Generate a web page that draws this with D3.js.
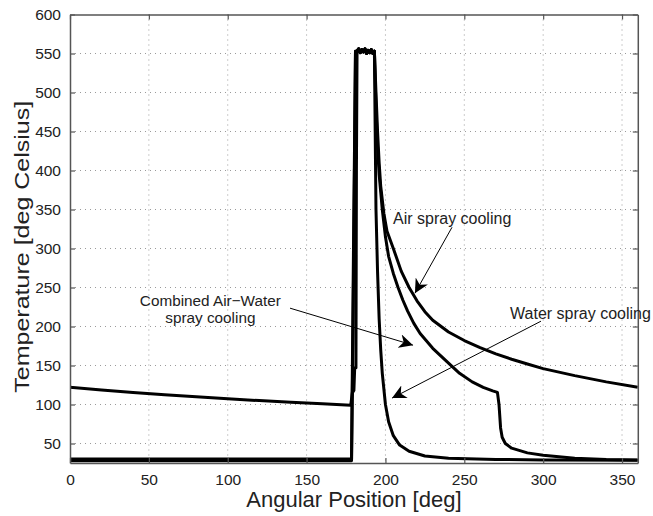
<!DOCTYPE html>
<html><head><meta charset="utf-8">
<script src="https://cdn.jsdelivr.net/npm/d3@7"></script>
<style>
body{margin:0;background:#fff;}
svg{display:block;}
text{font-family:"Liberation Sans",Arial,Helvetica,sans-serif;fill:#222;}
</style></head>
<body>
<svg id="chart" width="653" height="516"></svg>
<script>
// ---- data (angle in deg, temperature in deg C) ----
const xTicks = [0, 50, 100, 150, 200, 250, 300, 350];
const yTicks = [50, 100, 150, 200, 250, 300, 350, 400, 450, 500, 550, 600];

const peakAngles = [182, 183, 184, 185, 186, 187, 188, 189, 190, 191, 192, 193];
const peakTemps  = [553, 556, 551, 555, 552, 556, 550, 554, 551, 555, 550, 553];

const airAngles = [0, 20, 40, 60, 80, 100, 120, 140, 160, 178, 179, 180, 180.5, 181.3, 181.6, 182];
const airTemps  = [122, 118.5, 115.5, 112.5, 110, 107.5, 105, 103, 101, 99, 115, 118, 147, 147, 400, 553];
const airDecayAngles = [194, 195, 196, 197, 199, 201, 205, 210, 215, 220, 225, 230, 240, 250, 260, 270, 280, 290, 300, 320, 340, 360];
const airDecayTemps  = [500, 450, 410, 380, 345, 322, 300, 271, 250, 233, 219, 208, 193, 182, 173, 165, 158, 152, 146, 137, 129, 122];

const combAngles = [0, 60, 120, 178.5, 179.5, 181];
const combTemps  = [30, 30, 30, 30, 250, 553];
const combDecayAngles = [194, 195, 196, 198, 200, 202, 205, 208, 211, 214, 218, 222, 230, 240, 247, 255, 262, 268, 271, 272, 273, 274, 276, 280, 290, 300, 320, 340, 360];
const combDecayTemps  = [480, 430, 395, 350, 315, 290, 268, 250, 234, 220, 204, 191, 172, 153, 140, 129, 122, 117.5, 115.5, 100, 70, 58, 50, 44, 38, 35, 31, 29.5, 29];

const waterAngles = [0, 60, 120, 178.5, 179.5, 181];
const waterTemps  = [28, 28, 28, 28, 200, 553];
const waterDecayAngles = [193.5, 194, 195, 196, 197, 198, 200, 202, 205, 209, 215, 225, 240, 270, 300, 360];
const waterDecayTemps  = [450, 350, 270, 210, 170, 140, 100, 78, 60, 48, 40, 34, 31, 29.5, 29, 28.5];

// annotations: [text lines], text anchor point, arrow from -> to (data units)
const annotations = [
  {lines: ["Air spray cooling"], tx: 204.8, ty: 331, anchor: "start", size: 16, from: [242.2, 327.2], to: [218.7, 242.7]},
  {lines: ["Water spray cooling"], tx: 279, ty: 209.4, anchor: "start", size: 16, from: [298.6, 206.8], to: [204.2, 108.2]},
  {lines: ["Combined Air\u2212Water", "spray cooling"], tx: 89, ty: 226, anchor: "middle", size: 15.3, from: [139.5, 223.5], to: [217.5, 176.1]}
];

// ---- layout ----
const svg = d3.select("#chart");
const pL = 70, pR = 637.8, pT = 14.5, pB = 463;
const x = d3.scaleLinear().domain([0, 360]).range([pL, pR]);
const y = d3.scaleLinear().domain([25, 600]).range([pB, pT]);

const defs = svg.append("defs");
defs.append("clipPath").attr("id", "plotclip")
  .append("rect").attr("x", pL).attr("y", pT).attr("width", pR - pL).attr("height", pB - pT);

// grid
const grid = svg.append("g");
grid.selectAll("line.gx").data(xTicks.filter(d => d > 0)).enter().append("line")
  .attr("x1", d => x(d)).attr("x2", d => x(d)).attr("y1", pT).attr("y2", pB)
  .attr("stroke", "#9a9a9a").attr("stroke-width", 1).attr("stroke-dasharray", "1,4");
grid.selectAll("line.gy").data(yTicks.filter(d => d < 600)).enter().append("line")
  .attr("y1", d => y(d)).attr("y2", d => y(d)).attr("x1", pL).attr("x2", pR)
  .attr("stroke", "#9a9a9a").attr("stroke-width", 1).attr("stroke-dasharray", "1,4");

// curves
const line = d3.line().x(d => x(d[0])).y(d => y(d[1]));
const zipS = (a, b) => a.map((v, i) => [v, b[i]]);
const peak = zipS(peakAngles, peakTemps);
const series = [
  zipS(airAngles, airTemps).concat(peak, zipS(airDecayAngles, airDecayTemps)),
  zipS(combAngles, combTemps).concat(peak, zipS(combDecayAngles, combDecayTemps)),
  zipS(waterAngles, waterTemps).concat(peak, zipS(waterDecayAngles, waterDecayTemps))
];
svg.append("g").attr("clip-path", "url(#plotclip)")
  .selectAll("path").data(series).enter().append("path")
  .attr("d", line).attr("fill", "none").attr("stroke", "#000")
  .attr("stroke-width", 3).attr("stroke-linejoin", "round");

// axes (MATLAB-like box with inward ticks)
const axColor = "#555";
const xb = svg.append("g").attr("transform", `translate(0,${pB})`)
  .call(d3.axisBottom(x).tickValues(xTicks).tickSizeInner(-5).tickSizeOuter(0).tickPadding(11));
const xt = svg.append("g").attr("transform", `translate(0,${pT})`)
  .call(d3.axisTop(x).tickValues(xTicks).tickSizeInner(-5).tickSizeOuter(0).tickFormat(""));
const yl = svg.append("g").attr("transform", `translate(${pL},0)`)
  .call(d3.axisLeft(y).tickValues(yTicks).tickSizeInner(-5).tickSizeOuter(0).tickPadding(9));
const yr = svg.append("g").attr("transform", `translate(${pR},0)`)
  .call(d3.axisRight(y).tickValues(yTicks).tickSizeInner(-5).tickSizeOuter(0).tickFormat(""));
[xb, xt, yl, yr].forEach(g => {
  g.select(".domain").attr("stroke", axColor).attr("stroke-width", 1.5);
  g.selectAll(".tick line").attr("stroke", axColor).attr("stroke-width", 1.2);
  g.selectAll("text").style("font-size", "15.5px").attr("fill", "#222")
    .style("font-family", "'Liberation Sans', Arial, sans-serif");
});

// arrowhead marker
defs.append("marker").attr("id", "arr")
  .attr("viewBox", "0 0 10 10").attr("refX", 10).attr("refY", 5)
  .attr("markerWidth", 14).attr("markerHeight", 14).attr("markerUnits", "userSpaceOnUse")
  .attr("orient", "auto")
  .append("path").attr("d", "M0,0 L10,5 L0,10 L3,5 Z").attr("fill", "#000");

const ann = svg.append("g");
annotations.forEach(a => {
  ann.append("line")
    .attr("x1", x(a.from[0])).attr("y1", y(a.from[1]))
    .attr("x2", x(a.to[0])).attr("y2", y(a.to[1]))
    .attr("stroke", "#000").attr("stroke-width", 1).attr("marker-end", "url(#arr)");
  a.lines.forEach((t, i) => {
    ann.append("text").attr("x", x(a.tx)).attr("y", y(a.ty) + i * 17)
      .attr("text-anchor", a.anchor).style("font-size", a.size + "px").text(t);
  });
});

// axis titles
svg.append("text").attr("x", (pL + pR) / 2).attr("y", 507)
  .attr("text-anchor", "middle").style("font-size", "22px").text("Angular Position [deg]");
svg.append("text").attr("transform", `translate(29,${(pT + pB) / 2 + 8}) rotate(-90)`)
  .attr("text-anchor", "middle").style("font-size", "21px")
  .attr("textLength", 292).attr("lengthAdjust", "spacingAndGlyphs")
  .text("Temperature [deg Celsius]");
</script>
</body></html>
